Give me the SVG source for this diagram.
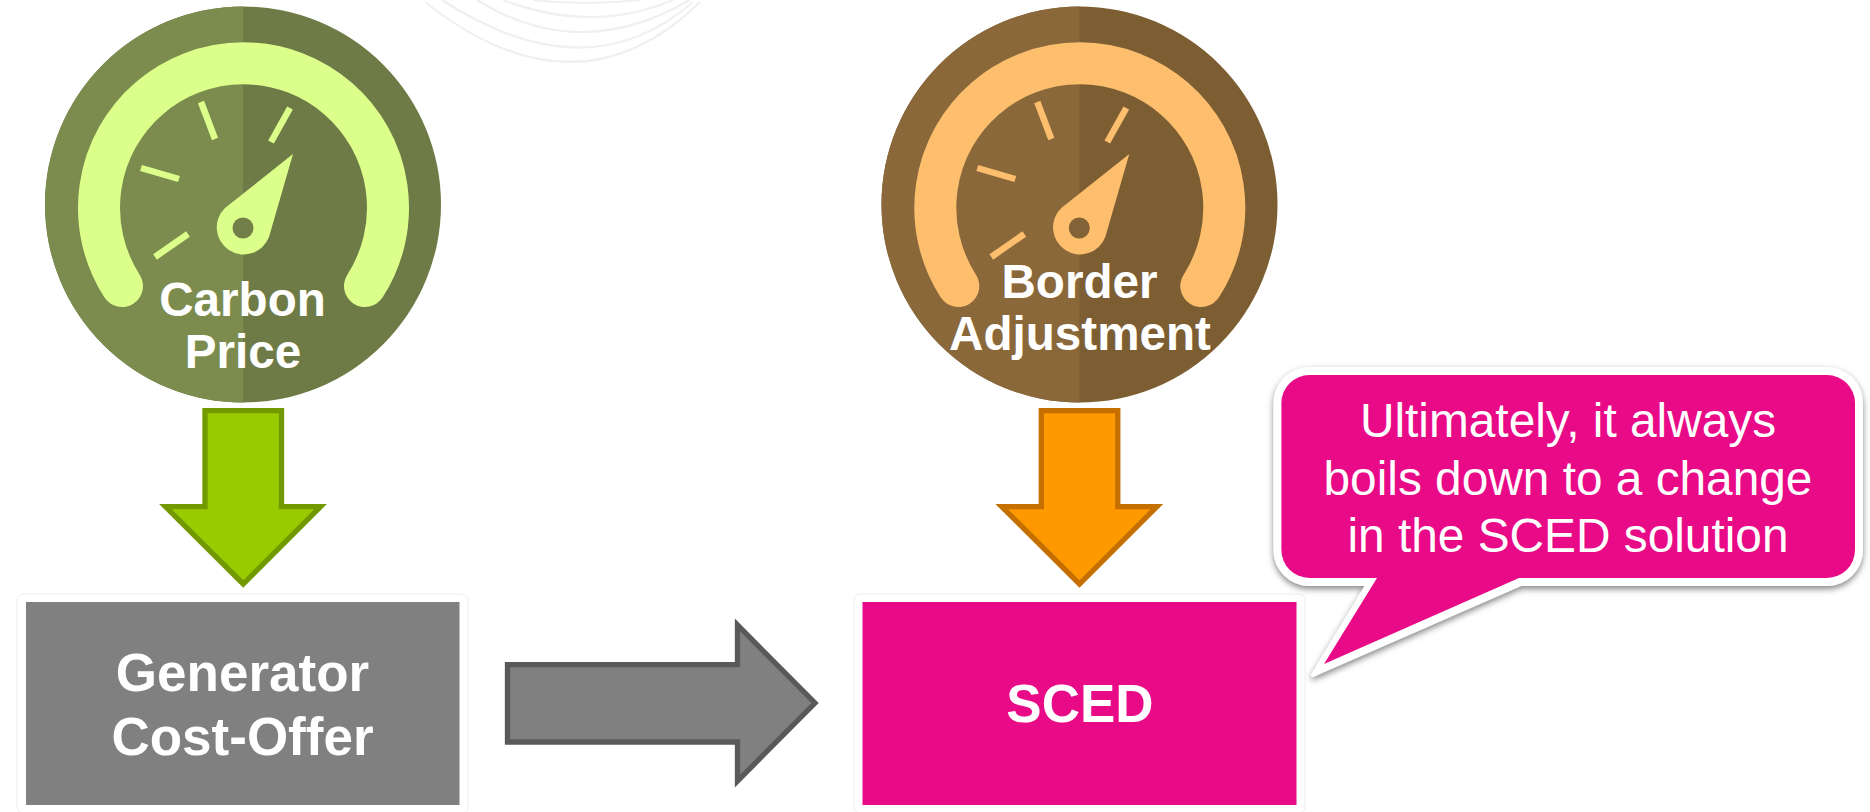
<svg xmlns="http://www.w3.org/2000/svg" xmlns:xlink="http://www.w3.org/1999/xlink" width="1870" height="812" viewBox="0 0 1870 812">
<style>
text{font-family:"Liberation Sans",Arial,sans-serif;fill:#fff;text-anchor:middle}
.b{font-weight:700}
.t47{font-size:47.6px}
.t52{font-size:53px}
.t48{font-size:47.8px}
.halo{fill:#fff;stroke:#ececec;stroke-width:1;filter:url(#soft)}
.arrow{stroke-width:5.3;stroke-linejoin:miter;stroke-miterlimit:10}
.curve{fill:none;stroke:#f0f0f0;stroke-width:2.2;filter:url(#soft)}
</style>
<defs>
<filter id="soft" x="-5%" y="-5%" width="110%" height="110%"><feGaussianBlur stdDeviation="0.7"/></filter>
<filter id="shadow" x="-5%" y="-5%" width="110%" height="115%"><feDropShadow dx="0" dy="3" stdDeviation="3" flood-color="#555" flood-opacity="0.7"/></filter>
<g id="dial">
<path d="M122,286A144.5,144.5 0 1 1 365,286" fill="none" stroke="currentColor" stroke-width="42" stroke-linecap="round"/>
<g fill="none" stroke="currentColor" stroke-width="6.5">
<path d="M201,102L215,139"/><path d="M290,108L271,142"/><path d="M141,168L179,179"/><path d="M188,234L155,257"/>
</g>
<path d="M293,154L225,208A27,27 0 1 0 269,237Z" fill="currentColor"/>
</g>
<path id="downarrow" d="M205,410.6H281.5V506.7H320.5L243.2,584L165.5,506.7H205Z"/>
</defs>
<rect width="1870" height="812" fill="#fff"/>
<g id="background-curves">
<path class="curve" d="M425,2Q577,122 700,2"/>
<path class="curve" d="M442,0Q587,94 693,2"/>
<path class="curve" d="M477,0Q580,64 690,0"/>
<path class="curve" d="M503,0Q593,34 673,0"/>
<path class="curve" d="M533,0Q587,6 640,0"/>
</g>
<g id="carbon-price">
<circle cx="243" cy="204.5" r="198" fill="#6f7b46"/>
<path d="M243,6.5A198,198 0 0 0 243,402.5Z" fill="#7b8c4e"/>
<use href="#dial" style="color:#dcfe8a"/>
<circle cx="243" cy="228" r="10.5" fill="#737f48"/>
<text class="b t47" x="242.5" y="316">Carbon</text>
<text class="b t47" x="243" y="368">Price</text>
</g>
<g id="border-adjustment">
<circle cx="1079.5" cy="204.5" r="198" fill="#7d5e33"/>
<path d="M1079.5,6.5A198,198 0 0 0 1079.5,402.5Z" fill="#8a683a"/>
<use href="#dial" transform="translate(836.3 0)" style="color:#fdbf6d"/>
<circle cx="1079.3" cy="228" r="10.5" fill="#826236"/>
<text class="b t47" x="1079.5" y="297.5">Border</text>
<text class="b t47" x="1080" y="350">Adjustment</text>
</g>
<g id="connectors">
<use href="#downarrow" class="arrow" fill="#99cc00" stroke="#729900"/>
<use href="#downarrow" class="arrow" transform="translate(836.3 0)" fill="#ff9900" stroke="#c56f00"/>
<path class="arrow" d="M507.5,664.6H737.5V625L815,703L737.5,781V742H507.5Z" fill="#808080" stroke="#595959"/>
</g>
<g id="generator-cost-offer">
<rect class="halo" x="17" y="594" width="451" height="219" rx="6"/>
<rect x="26" y="602" width="433.5" height="203" fill="#808080"/>
<text class="b t52" x="242.5" y="691">Generator</text>
<text class="b t52" x="242.5" y="755">Cost-Offer</text>
</g>
<g id="sced">
<rect class="halo" x="854" y="594" width="451" height="219" rx="6"/>
<rect x="862.5" y="602" width="434" height="203" fill="#e80a87"/>
<text class="b t52" x="1080" y="722">SCED</text>
</g>
<g id="callout">
<path d="M1309.4,369H1827A34,34 0 0 1 1861,403V550A34,34 0 0 1 1827,584H1521L1313,675L1368,584H1309.4A34,34 0 0 1 1275.4,550V403A34,34 0 0 1 1309.4,369Z" fill="#fff" stroke="#fff" stroke-width="4" stroke-linejoin="round" filter="url(#shadow)"/>
<path d="M1309.4,375H1827A28,28 0 0 1 1855,403V550A28,28 0 0 1 1827,578H1519L1324,664L1377,578H1309.4A28,28 0 0 1 1281.4,550V403A28,28 0 0 1 1309.4,375Z" fill="#e80a87"/>
<text class="t48" x="1568" y="437">Ultimately, it always</text>
<text class="t48" x="1568" y="494.5">boils down to a change</text>
<text class="t48" x="1568" y="551.5">in the SCED solution</text>
</g>
</svg>
